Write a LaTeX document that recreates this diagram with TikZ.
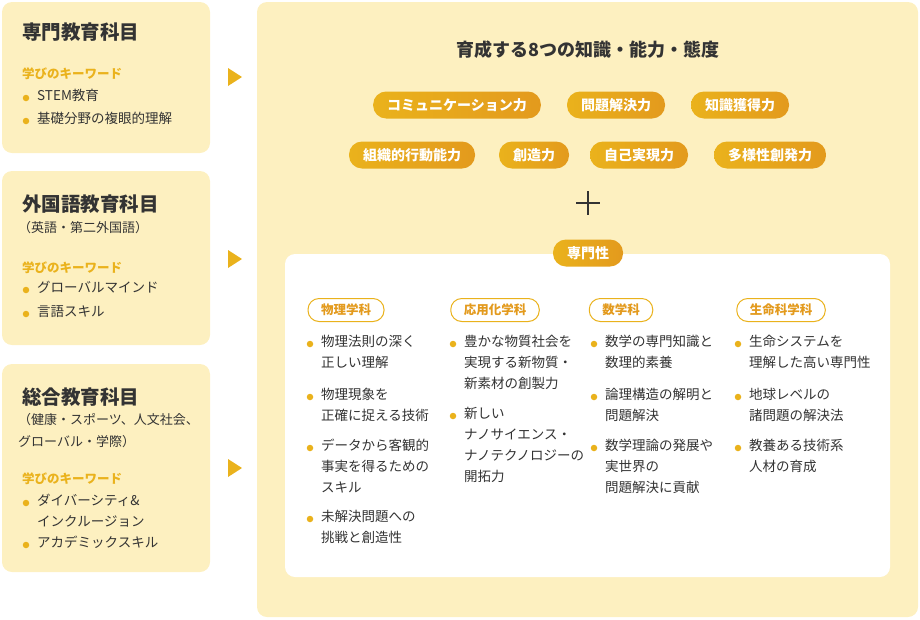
\documentclass[tikz,border=0pt]{standalone}
\usepackage{fontspec}
\setmainfont{Noto Sans CJK JP}
\usetikzlibrary{positioning}
\definecolor{cream}{HTML}{FDF0C0}
\definecolor{gold}{HTML}{EAB21C}
\definecolor{amber}{HTML}{E39A1D}
\definecolor{ink}{HTML}{333333}
\tikzset{
  panel/.style={fill=cream, rounded corners=10pt, draw=none},
  tri/.style={fill=gold, draw=none},
  headline/.style={anchor=west, font=\fontsize{19.5}{21}\selectfont\bfseries, text=ink, inner sep=0},
  subline/.style={anchor=north west, align=left, font=\fontsize{13}{22}\selectfont, text=ink, inner sep=0},
  keyword/.style={anchor=west, font=\fontsize{12.5}{14}\selectfont\bfseries, text=gold, inner sep=0},
  item/.style={anchor=north west, align=left, font=\fontsize{13.5}{21}\selectfont, text=ink, inner sep=0},
  dot/.style={circle, fill=gold, minimum size=6.5pt, inner sep=0},
  skill/.style={rounded corners=13pt, left color=gold, right color=amber, text=white, minimum height=27pt,
    font=\fontsize{14}{16}\selectfont\bfseries, inner xsep=14pt},
  dept/.style={rounded corners=11pt, draw=gold, line width=1pt, fill=white, text=amber, minimum height=23pt,
    font=\fontsize{12.5}{14}\selectfont\bfseries, inner xsep=13pt}
}
\newcommand{\bullitem}[4]{% name, x, y, text
  \node[dot] (#1d) at (#2,#3+9) {};
  \node[item] (#1) at (#2+11,#3) {#4};
}
\begin{document}
\begin{tikzpicture}[x=1pt,y=-1pt]
  \useasboundingbox (0,0) rectangle (920,619);
  % left panels
  \fill[panel] (2,2) rectangle (210,153);
  \fill[panel] (2,171) rectangle (210,345);
  \fill[panel] (2,364) rectangle (210,572);
  \fill[tri] (228,68) -- (242,77) -- (228,86) -- cycle;
  \fill[tri] (228,250) -- (242,259) -- (228,268) -- cycle;
  \fill[tri] (228,459) -- (242,468) -- (228,477) -- cycle;
  \node[headline] (sen) at (22,32) {専門教育科目};
  \node[keyword] (kw1) at (22,74) {学びのキーワード};
  \bullitem{s1}{26}{89}{STEM教育}
  \bullitem{s2}{26}{112}{基礎分野の複眼的理解}
  \node[headline] (gai) at (22,204) {外国語教育科目};
  \node[subline] (gaisub) at (18,221) {（英語・第二外国語）};
  \node[keyword] (kw2) at (22,268) {学びのキーワード};
  \bullitem{g1}{26}{281}{グローバルマインド}
  \bullitem{g2}{26}{305}{言語スキル}
  \node[headline] (sou) at (22,397) {総合教育科目};
  \node[subline] (sousub) at (18,413) {（健康・スポーツ、人文社会、\\ グローバル・学際）};
  \node[keyword] (kw3) at (22,479) {学びのキーワード};
  \bullitem{o1}{26}{494}{ダイバーシティ\&\\インクルージョン}
  \bullitem{o2}{26}{536}{アカデミックスキル}
  % right panel
  \fill[panel] (257,2) rectangle (918,617);
  \node[font=\fontsize{18}{20}\selectfont\bfseries, text=ink] (title) at (588,50) {育成する8つの知識・能力・態度};
  \node[skill] (p1) at (457,105) {コミュニケーション力};
  \node[skill] (p2) at (616,105) {問題解決力};
  \node[skill] (p3) at (740,105) {知識獲得力};
  \node[skill] (p4) at (412,155) {組織的行動能力};
  \node[skill] (p5) at (534,155) {創造力};
  \node[skill] (p6) at (639,155) {自己実現力};
  \node[skill] (p7) at (770,155) {多様性創発力};
  \draw[ink, line width=1.6pt] (576,203) -- (600,203) (588,191) -- (588,215);
  \fill[white, rounded corners=10pt] (285,254) rectangle (890,577);
  \node[skill] (senmon) at (588,253) {専門性};
  \node[dept] (phy) at (346,310) {物理学科};
  \node[dept] (chem) at (495,310) {応用化学科};
  \node[dept] (math) at (621,310) {数学科};
  \node[dept] (bio) at (781,310) {生命科学科};
  \bullitem{a1}{310}{335}{物理法則の深く\\正しい理解}
  \bullitem{a2}{310}{388}{物理現象を\\正確に捉える技術}
  \bullitem{a3}{310}{439}{データから客観的\\事実を得るための\\スキル}
  \bullitem{a4}{310}{510}{未解決問題への\\挑戦と創造性}
  \bullitem{b1}{453}{335}{豊かな物質社会を\\実現する新物質・\\新素材の創製力}
  \bullitem{b2}{453}{407}{新しい\\ナノサイエンス・\\ナノテクノロジーの\\開拓力}
  \bullitem{c1}{594}{335}{数学の専門知識と\\数理的素養}
  \bullitem{c2}{594}{388}{論理構造の解明と\\問題解決}
  \bullitem{c3}{594}{439}{数学理論の発展や\\実世界の\\問題解決に貢献}
  \bullitem{d1}{738}{335}{生命システムを\\理解した高い専門性}
  \bullitem{d2}{738}{388}{地球レベルの\\諸問題の解決法}
  \bullitem{d3}{738}{439}{教養ある技術系\\人材の育成}
\end{tikzpicture}
\end{document}
